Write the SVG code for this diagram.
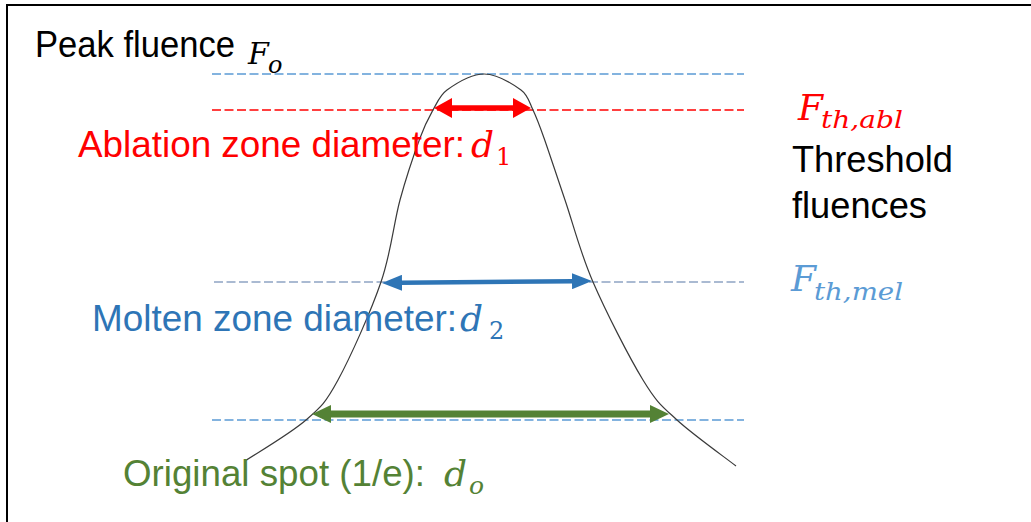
<svg xmlns="http://www.w3.org/2000/svg" width="1031" height="522" viewBox="0 0 1031 522">
<style>
.lbl{font-family:"Liberation Sans",Arial,sans-serif;font-size:36px}
.mi{font-family:"DejaVu Serif","Liberation Serif",serif;font-style:italic}
.mn{font-style:normal}
.dash{fill:none;stroke-width:1.3;stroke-dasharray:9 3.5}
.red{fill:#FF0000}
.blue{fill:#2E75B6}
.lblue{fill:#5B9BD5}
.green{fill:#548235}
</style>
<defs>
<marker id="hr" markerUnits="userSpaceOnUse" viewBox="0 0 18 20" markerWidth="18" markerHeight="20" refX="1" refY="10" orient="auto-start-reverse"><path d="M0,0 L18,10 L0,20 Z" fill="#FF0000"/></marker>
<marker id="hb" markerUnits="userSpaceOnUse" viewBox="0 0 20 16" markerWidth="20" markerHeight="16" refX="1" refY="8" orient="auto-start-reverse"><path d="M0,0 L20,8 L0,16 Z" fill="#2E75B6"/></marker>
<marker id="hg" markerUnits="userSpaceOnUse" viewBox="0 0 19 18" markerWidth="19" markerHeight="18" refX="1" refY="9" orient="auto-start-reverse"><path d="M0,0 L19,9 L0,18 Z" fill="#548235"/></marker>
</defs>
<rect width="1031" height="522" fill="#FFFFFF"/>
<path d="M7,522 V5 H1031" fill="none" stroke="#000" stroke-width="2"/>

<g id="levels">
<line class="dash" x1="212" y1="74" x2="744" y2="74" stroke="#5B9BD5"/>
<line class="dash" x1="212" y1="110" x2="744" y2="110" stroke="#FF0000"/>
<line class="dash" x1="214" y1="282" x2="744" y2="282" stroke="#8EA4C4"/>
<line class="dash" x1="212" y1="420" x2="744" y2="420" stroke="#5B9BD5"/>
</g>

<g id="curve">
<path d="M245,461 C255.2,454.2 290.5,433.5 306,420 C321.5,406.5 325.5,403 338,380 C350.5,357 370.7,312 381,282 C391.3,252 393.5,224 400,200 C406.5,176 414.5,153 420,138 C425.5,123 428.5,118 433,110 C437.5,102 440,95 447,90 C456,83.5 471.7,74 484,74 C496.3,74 512,83.5 521,90 C528,95 529.2,102 533,110 C536.8,118 538.7,123 544,138 C549.3,153 556.8,176 565,200 C573.2,224 580,252 593,282 C606,312 629,357 643,380 C657,403 661.5,405.7 677,420 C692.5,434.3 726.2,458.3 736,466" fill="none" stroke="#3A3A3A" stroke-width="1.2"/>
</g>

<g id="connectors">
<line x1="451" y1="108" x2="514" y2="108" stroke="#FF0000" stroke-width="5.5" marker-start="url(#hr)" marker-end="url(#hr)"/>
<line x1="401" y1="282.8" x2="573" y2="281.2" stroke="#2E75B6" stroke-width="4.5" marker-start="url(#hb)" marker-end="url(#hb)"/>
<line x1="330" y1="414" x2="651" y2="414" stroke="#548235" stroke-width="7" marker-start="url(#hg)" marker-end="url(#hg)"/>
</g>

<g id="peak">
<text class="lbl" x="35" y="57" textLength="200" lengthAdjust="spacingAndGlyphs">Peak fluence</text>
<text class="mi" font-size="30"><tspan x="248" y="64">F</tspan><tspan x="268" y="73" font-size="24">o</tspan></text>
</g>

<g id="ablation">
<text class="lbl red" x="78" y="157" textLength="387" lengthAdjust="spacingAndGlyphs">Ablation zone diameter:</text>
<text class="mi red" font-size="36"><tspan x="471" y="157">d</tspan><tspan class="mn" x="496" y="165" font-size="24">1</tspan></text>
</g>

<g id="molten">
<text class="lbl blue" x="92" y="331" textLength="365" lengthAdjust="spacingAndGlyphs">Molten zone diameter:</text>
<text class="mi blue" font-size="36"><tspan x="460" y="331">d</tspan><tspan class="mn" x="489" y="339" font-size="24">2</tspan></text>
</g>

<g id="original">
<text class="lbl green" x="123" y="486" textLength="302" lengthAdjust="spacingAndGlyphs">Original spot (1/e):</text>
<text class="mi green" font-size="36"><tspan x="444" y="486">d</tspan><tspan x="469" y="494" font-size="25">o</tspan></text>
</g>

<g id="thresholds">
<text class="mi red" font-size="36"><tspan x="798" y="120">F</tspan><tspan x="821" y="128" font-size="24" textLength="82" lengthAdjust="spacingAndGlyphs">th,abl</tspan></text>
<text class="lbl" x="792" y="172" textLength="161" lengthAdjust="spacingAndGlyphs">Threshold</text>
<text class="lbl" x="792" y="218" textLength="135" lengthAdjust="spacingAndGlyphs">fluences</text>
<text class="mi lblue" font-size="36"><tspan x="791" y="291">F</tspan><tspan x="814" y="300" font-size="24" textLength="89" lengthAdjust="spacingAndGlyphs">th,mel</tspan></text>
</g>
</svg>
